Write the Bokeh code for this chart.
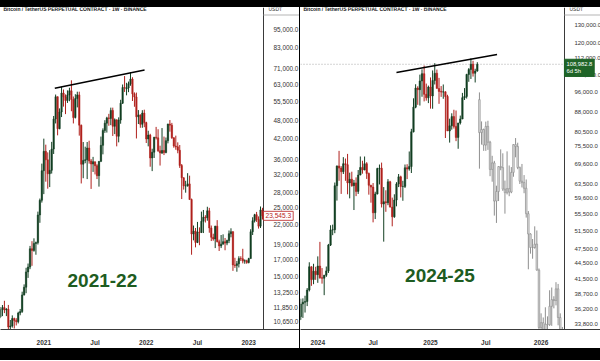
import pandas as pd
from bokeh.plotting import figure
from bokeh.models import (FixedTicker, NumeralTickFormatter, Label, Range1d, Div,
                          BoxAnnotation)
from bokeh.layouts import row, column
from bokeh.embed import file_html
from bokeh.resources import INLINE

# ---------------- data ----------------
title_text = "Bitcoin / TetherUS PERPETUAL CONTRACT \u00b7 1W \u00b7 BINANCE"
scale_unit = "USDT"

# 2021-22 panel, weekly candles starting 2020-08-03
left_start = "2020-08-03"
left_open = [11070, 11680, 11850, 11650, 11710, 10250, 10330, 10920, 10770, 10670,
             11380, 11500, 13030, 13800, 15480, 16050, 18400, 18180, 19150, 19270,
             23700, 26450, 33000, 38150, 35800, 32250, 33100, 38800, 48600, 57400,
             45200, 51200, 59000, 57350, 55800, 58200, 60000, 56200, 49100, 56600,
             58200, 46400, 34650, 35650, 35800, 39100, 35500, 34700, 35300, 34250,
             31800, 35400, 39900, 44600, 47100, 49000, 48800, 51800, 46000, 48300,
             42700, 48200, 54700, 61500, 60900, 61300, 63200, 65500, 58650, 57300,
             49400, 50100, 46700, 50800, 47300, 41850, 43100, 36300, 37900, 42400,
             42200, 38300, 37700, 38400, 37800, 41300, 46800, 46400, 42200, 39700,
             39450, 38450, 34300, 31300, 29450, 29450, 29900, 26600, 20550, 21000,
             19300, 20850, 20800, 22600, 23300, 23200, 24450, 21500, 20050, 19800,
             21800, 19400, 18800, 19050, 19400, 19200, 19570, 20600, 20900, 16300,
             16250, 16450, 17100, 17080, 16780, 16830, 16600, 17100, 20900, 22700,
             23750, 22900, 21800, 24600]
left_high = [11900, 12080, 12470, 11800, 12090, 10800, 11180, 10990, 10950, 11490,
             11730, 13350, 14100, 15960, 16480, 18800, 19480, 19900, 19420, 24300,
             26800, 34800, 41950, 40100, 37850, 38500, 40950, 49700, 58350, 57500,
             52600, 61800, 60600, 58400, 60200, 61400, 64900, 57500, 58500, 59600,
             59600, 46600, 40900, 39500, 40900, 41300, 36000, 36600, 35300, 34650,
             35400, 42600, 45300, 48150, 49400, 50500, 52900, 52900, 48800, 48400,
             49200, 56100, 62900, 67000, 63700, 64300, 69000, 66400, 59300, 59200,
             51950, 50300, 51900, 52100, 47600, 44500, 43500, 38900, 42500, 45800,
             45000, 39800, 45400, 42600, 42300, 46900, 48200, 47200, 42400, 42900,
             40800, 40000, 34700, 31400, 30600, 32400, 31800, 26800, 21900, 21500,
             22500, 21600, 24300, 24600, 23650, 25200, 25000, 21900, 20600, 21850,
             22800, 19700, 20400, 20500, 19950, 19700, 21100, 21450, 21000, 17200,
             16800, 17400, 17400, 18400, 17000, 16950, 17200, 21300, 23300, 23900,
             24250, 23450, 25250, 25000]
left_low = [10950, 11120, 11370, 11120, 9880, 9880, 10200, 10140, 10370, 10530,
            11190, 11400, 12970, 13200, 14800, 15800, 16200, 18000, 17600, 19000,
            22350, 26000, 27700, 30400, 28850, 29200, 32300, 37400, 47000, 43000,
            45000, 49300, 53300, 50400, 54800, 55500, 51500, 47000, 48800, 53000,
            42900, 30000, 31200, 34900, 31000, 34800, 28800, 32700, 32100, 31000,
            29300, 35200, 37300, 43800, 43900, 46200, 46400, 42800, 43400, 39600,
            40800, 46900, 54400, 59500, 58000, 59400, 62300, 55600, 53250, 42000,
            46800, 45500, 45500, 45700, 40600, 39600, 34000, 32900, 36300, 41700,
            38000, 34300, 37400, 37100, 37600, 40500, 44200, 41900, 39200, 38600,
            37600, 33700, 26700, 28650, 28000, 29300, 26550, 17600, 19600, 18600,
            19200, 18900, 20700, 20700, 22400, 22700, 20750, 19500, 19550, 18500,
            19300, 18100, 18500, 19000, 18200, 18900, 19200, 20050, 15600, 15950,
            15500, 16000, 16800, 16500, 16450, 16450, 16500, 17100, 20400, 22400,
            22500, 21400, 21500, 22900]
left_close = [11680, 11850, 11650, 11710, 10250, 10330, 10920, 10770, 10670, 11380,
              11500, 13030, 13800, 15480, 16050, 18400, 18180, 19150, 19270, 23700,
              26450, 33000, 38150, 35800, 32250, 33100, 38800, 48600, 57400, 45200,
              51200, 59000, 57350, 55800, 58200, 60000, 56200, 49100, 56600, 58200,
              46400, 34650, 35650, 35800, 39100, 35500, 34700, 35300, 34250, 31800,
              35400, 39900, 44600, 47100, 49000, 48800, 51800, 46000, 48300, 42700,
              48200, 54700, 61500, 61300, 61300, 63200, 65500, 58650, 57300, 49400,
              50100, 46700, 50800, 47300, 41850, 43100, 36300, 37900, 42400, 42200,
              38300, 37700, 38400, 37800, 41300, 46800, 46400, 42200, 39700, 39450,
              38450, 34300, 31300, 29450, 29450, 29900, 26600, 20550, 21000, 19300,
              20850, 20800, 22600, 23300, 23200, 24450, 21500, 20050, 19800, 21800,
              19400, 18800, 19050, 19400, 19200, 19570, 20600, 20900, 16300, 16250,
              16450, 17100, 17080, 16780, 16830, 16600, 17100, 20900, 22700, 23750,
              22900, 21800, 24600, 23545.3]

# 2024-25 panel, weekly candles starting 2023-10-30
right_start = "2023-10-30"
right_open = [34500, 35000, 37050, 37350, 37450, 39450, 43800, 41350, 42950, 42280,
              43950, 41700, 41600, 42150, 43000, 48300, 51700, 51750, 63100, 68950,
              68300, 67200, 69650, 69350, 63900, 64950, 63100, 63900, 61500, 66200,
              68500, 67750, 69650, 66650, 63200, 62700, 55850, 60800, 68150, 68250,
              58100, 58700, 58450, 64200, 57300, 54850, 59150, 63600, 65650, 62850,
              62900, 68400, 68000, 68750, 80400, 89850, 97900, 97200, 101100, 104450,
              95200, 93700, 98350, 94500, 101300, 104700, 97700, 96450, 96150, 96250,
              94250, 80700, 82600, 86100, 82400, 78400, 83700, 85200, 93750, 94300,
              104100, 106450, 109000, 104650, 105700]
right_high = [35950, 37950, 38000, 38450, 39800, 44700, 43900, 44400, 43800, 45900,
              49000, 43550, 42250, 43850, 48550, 52800, 52950, 64000, 69100, 73800,
              68900, 71750, 71300, 72800, 66900, 67200, 64750, 65500, 67700, 71950,
              70600, 71950, 70150, 66950, 63350, 63850, 61400, 68400, 69400, 70000,
              62700, 61800, 65000, 64500, 59800, 60700, 64100, 66500, 66000, 64500,
              69400, 69500, 73600, 81500, 93500, 99600, 98700, 104000, 106500, 108350,
              99900, 99000, 102700, 106000, 109500, 106400, 102500, 98800, 99500, 96500,
              95000, 85300, 87400, 88800, 88500, 83600, 86500, 95800, 97900, 104400,
              107100, 111900, 110700, 106800, 110000]
right_low = [34100, 34500, 34800, 35650, 36700, 39200, 40200, 40500, 41300, 40750,
             41500, 40600, 38550, 41850, 42600, 48100, 50500, 50950, 59000, 64500,
             60800, 66500, 64500, 60700, 59600, 62800, 56550, 60200, 60800, 66100,
             66600, 67600, 65050, 60600, 58450, 53500, 54300, 60650, 63450, 57200,
             49050, 56100, 57800, 57200, 52550, 54600, 57500, 62700, 59850, 58950,
             62450, 65000, 67500, 66800, 80200, 89400, 90800, 90500, 94150, 92200,
             92500, 91500, 89250, 89200, 99500, 97800, 91200, 94100, 93300, 78200,
             81500, 76600, 81200, 81600, 77100, 74500, 83100, 85100, 92800, 93400,
             100700, 102000, 103100, 100400, 105400]
right_close = [35000, 37050, 37350, 37450, 39450, 43800, 41350, 42950, 42280, 43950,
               41700, 41600, 42150, 43000, 48300, 51700, 51750, 63100, 68950, 68300,
               67200, 69650, 69350, 63900, 64950, 63100, 63900, 61500, 66200, 68500,
               67750, 69650, 66650, 63200, 62700, 55850, 60800, 68150, 68250, 58100,
               58700, 58450, 64200, 57300, 54850, 59150, 63600, 65650, 62850, 62900,
               68400, 68000, 68750, 80400, 89850, 97900, 97200, 101100, 104450, 95200,
               93700, 98350, 94500, 101300, 104700, 97700, 96450, 96150, 96250, 94250,
               80700, 82600, 86100, 82400, 78400, 83700, 85200, 93750, 94300, 104100,
               106450, 109000, 104650, 105700, 108982.8]

# grey projected bars (pattern) after the last real candle, weekly from 2025-06-16
ghost_start = "2025-06-16"
ghost_open = [92940, 80130, 81260, 75750, 82400, 76720, 67880, 69910, 58880, 61470,
              68770, 68450, 62120, 61150, 62280, 61310, 66990, 75910, 75260, 68450,
              64390, 63990, 62370, 55630, 50770, 47770, 47770, 48500, 43150, 33330,
              34060, 31300, 33820, 33740, 36660, 37790, 37630, 39660, 34870, 32520]
ghost_high = [96020, 84260, 81590, 84180, 84510, 77210, 72180, 70560, 63100, 68940,
              74290, 72990, 64560, 73640, 69100, 68610, 76070, 78180, 76560, 68770,
              69580, 66180, 64880, 56280, 50930, 49630, 52550, 51580, 43470, 35520,
              34870, 36500, 35040, 39410, 39900, 38360, 40870, 40550, 35520, 33410]
ghost_low = [68120, 75910, 73800, 73800, 74130, 65850, 64230, 55150, 53360, 58880,
             67640, 61640, 55630, 60660, 60180, 60990, 65690, 71690, 67960, 63580,
             62610, 60990, 54660, 43310, 46470, 45420, 47520, 43060, 28550, 31790,
             30170, 31140, 30660, 33580, 33580, 36330, 36820, 33660, 31630, 31710]
ghost_close = [80130, 81260, 75750, 82400, 76720, 67880, 69910, 58880, 61470, 68770,
               68450, 62120, 61150, 62280, 61310, 66990, 75910, 75260, 68450, 64390,
               63990, 62370, 55630, 50770, 47770, 47770, 48500, 43150, 33330, 34060,
               31300, 33820, 33740, 36660, 37790, 37630, 39660, 34870, 32520, 32120]

left_yticks = [95000, 83000, 71000, 63000, 55500, 48000, 42000, 36000, 32000, 28000,
               25000, 22000, 19000, 17000, 15000, 13250, 11850, 10650]
right_yticks = [130000, 120000, 112000, 104000, 96000, 88000, 80500, 75500, 69600,
                63500, 59600, 55500, 51500, 47500, 44500, 41500, 38700, 36200, 33800]

left_xtick_dates = ["2021-01-04", "2021-07-05", "2022-01-03", "2022-07-04", "2023-01-02"]
left_xtick_labels = ["2021", "Jul", "2022", "Jul", "2023"]
right_xtick_dates = ["2024-01-01", "2024-07-01", "2025-01-06", "2025-07-07", "2026-01-05"]
right_xtick_labels = ["2024", "Jul", "2025", "Jul", "2026"]

left_last_price = 23545.3
right_last_price = 108982.8
right_countdown = "6d 5h"

left_trend_dates = ["2021-02-12", "2021-12-28"]
left_trend_prices = [61150, 70080]
right_trend_dates = ["2024-09-16", "2025-08-13"]
right_trend_prices = [105000, 113850]

left_tag, left_tag_date, left_tag_price = "2021-22", "2021-07-31", 14530
right_tag, right_tag_date, right_tag_price = "2024-25", "2025-02-06", 42120

# visible windows: (frame start, price-scale boundary, frame end) and price range
left_window = ("2020-08-03 02:00", "2023-02-23 16:00", "2023-07-01 12:00")
left_price_range = (10060, 111900)
right_window = ("2023-11-05 02:00", "2026-03-22 19:00", "2026-07-19 12:00")
right_price_range = (33030, 140700)

# ---------------- helpers ----------------
DAY = 86400000
UP = "#123f22"
DOWN = "#b0211d"
FONT = "Liberation Sans"
FRAME_H = 328
PANEL_H = 341


def ms(s):
    return int(pd.Timestamp(s).value // 10**6)


def weekly(start, n):
    return [int(t.value // 10**6) for t in pd.date_range(start, periods=n, freq="7D")]


def draw_candles(p, start, o, h, l, c, up=UP, down=DOWN, hollow=False):
    x = weekly(start, len(o))
    cols = [up if cc >= oo else down for oo, cc in zip(o, c)]
    top = [max(a, b) for a, b in zip(o, c)]
    bot = [min(a, b) for a, b in zip(o, c)]
    p.segment(x0=x, y0=h, x1=x, y1=l, line_color=cols, line_width=1)
    if hollow:
        p.vbar(x=x, width=5 * DAY, top=top, bottom=bot, fill_color="#e4e4e4",
               line_color=cols, line_width=0.7)
    else:
        p.vbar(x=x, width=5 * DAY, top=top, bottom=bot, fill_color=cols,
               line_color=cols, line_width=0.5)


def panel(width, axis_px, window, prange, yticks, tick_font, xt_dates, xt_labels):
    x0, xb, x1 = window
    p = figure(width=width, height=PANEL_H, x_range=Range1d(ms(x0), ms(x1)),
               y_range=Range1d(*prange), y_axis_type="log", y_axis_location="right",
               output_backend="svg", toolbar_location=None,
               min_border_left=0, min_border_top=0, min_border_right=0,
               min_border_bottom=PANEL_H - FRAME_H, background_fill_color="white",
               border_fill_color="white", outline_line_color=None, margin=0)
    p.grid.visible = False
    ya = p.yaxis[0]
    ya.fixed_location = ms(xb)
    ya.ticker = FixedTicker(ticks=yticks)
    ya.formatter = NumeralTickFormatter(format="0,0.0")
    ya.major_label_text_font = FONT
    ya.major_label_text_font_size = tick_font
    ya.major_label_text_color = "#333333"
    ya.major_tick_line_color = None
    ya.minor_tick_line_color = None
    ya.axis_line_color = "#3a3a3a"
    ya.major_label_standoff = 4
    xa = p.xaxis[0]
    ticks = [ms(d) for d in xt_dates]
    xa.ticker = FixedTicker(ticks=ticks)
    xa.major_label_overrides = {t: lab for t, lab in zip(ticks, xt_labels)}
    xa.major_label_text_font = FONT
    xa.major_label_text_font_size = "6.5px"
    xa.major_label_text_font_style = "bold"
    xa.major_label_text_color = "#333333"
    xa.major_tick_line_color = None
    xa.minor_tick_line_color = None
    xa.axis_line_color = "#3a3a3a"
    xa.major_label_standoff = 3
    p.add_layout(Label(x=3, y=FRAME_H - 7, x_units="screen", y_units="screen",
                       text=title_text, text_font=FONT, text_font_size="5px",
                       text_font_style="bold", text_color="#111111",
                       text_baseline="middle"))
    p.add_layout(Label(x=axis_px + 5, y=FRAME_H - 7, x_units="screen", y_units="screen",
                       text=scale_unit, text_font=FONT, text_font_size="5px",
                       text_color="#333333", text_baseline="middle"))
    p.add_layout(BoxAnnotation(left=axis_px, right=width, top=FRAME_H - 13,
                               bottom=FRAME_H - 14, left_units="screen",
                               right_units="screen", top_units="screen",
                               bottom_units="screen", fill_color="#b5b5b5",
                               fill_alpha=1, line_color=None))
    return p


# ---------------- left panel ----------------
p1 = panel(299, 263, left_window, left_price_range, left_yticks, "6.4px",
           left_xtick_dates, left_xtick_labels)
draw_candles(p1, left_start, left_open, left_high, left_low, left_close)
p1.line(x=[ms(d) for d in left_trend_dates], y=left_trend_prices, line_color="black",
        line_width=1.4)
p1.add_layout(Label(x=ms(left_tag_date), y=left_tag_price, text=left_tag,
                    text_font=FONT, text_font_size="19px", text_font_style="bold",
                    text_color="#1e5c21", text_align="center", text_baseline="middle"))
p1.add_layout(Label(x=ms(left_window[1]), y=left_last_price, x_offset=0,
                    text=f"{left_last_price:,.1f}", text_font=FONT,
                    text_font_size="6.6px", text_color="#b71c1c",
                    text_baseline="middle", background_fill_color="white",
                    border_line_color="#b71c1c", border_line_width=0.8, padding=2))

# ---------------- right panel ----------------
p2 = panel(300, 264, right_window, right_price_range, right_yticks, "6px",
           right_xtick_dates, right_xtick_labels)
p2.line(x=[ms(right_window[0]), ms(right_window[1])],
        y=[right_last_price, right_last_price], line_color="#a8a8a8",
        line_dash="1 2", line_width=1)
draw_candles(p2, ghost_start, ghost_open, ghost_high, ghost_low, ghost_close,
             up="#8f8f8f", down="#8f8f8f", hollow=True)
draw_candles(p2, right_start, right_open, right_high, right_low, right_close)
p2.line(x=[ms(d) for d in right_trend_dates], y=right_trend_prices, line_color="black",
        line_width=1.4)
p2.add_layout(Label(x=ms(right_tag_date), y=right_tag_price, text=right_tag,
                    text_font=FONT, text_font_size="19px", text_font_style="bold",
                    text_color="#1e5c21", text_align="center", text_baseline="middle"))
p2.add_layout(Label(x=ms(right_window[1]), y=right_last_price, y_offset=5,
                    text=f"{right_last_price:,.1f}\n{right_countdown}",
                    text_font=FONT, text_font_size="5.8px", text_color="white",
                    text_baseline="top", background_fill_color="#1f6428",
                    border_line_color="#1f6428", padding=2))

top_band = Div(text="", width=600, height=7, margin=0,
               styles={"background-color": "#000000"})
sep = Div(text="", width=1, height=PANEL_H, margin=0,
          styles={"background-color": "#000000"})
bottom_band = Div(text="", width=600, height=12, margin=0,
                  styles={"background-color": "#000000"})
layout = column(top_band, row(p1, sep, p2, margin=0), bottom_band, margin=0)

open("out.html", "w").write(file_html(layout, INLINE))
